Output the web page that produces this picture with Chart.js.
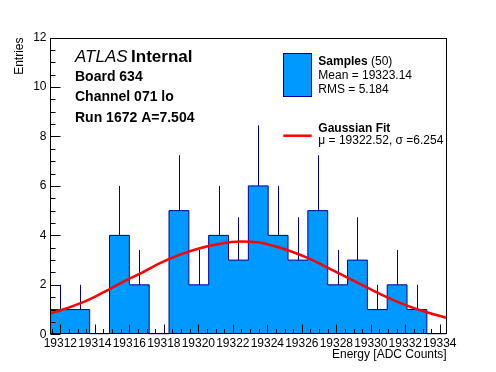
<!DOCTYPE html>
<html><head><meta charset="utf-8">
<script src="https://cdn.jsdelivr.net/npm/chart.js@4/dist/chart.umd.min.js"></script>
<style>html,body{margin:0;padding:0;background:#fff}</style>
</head><body>
<canvas id="c" width="496" height="372"></canvas>
<script>
// ---- data ----
const binEdges = [19311.40, 19312.55, 19313.70, 19314.85, 19316.00, 19317.15, 19318.30,
  19319.45, 19320.60, 19321.75, 19322.90, 19324.05, 19325.20, 19326.35, 19327.50,
  19328.65, 19329.80, 19330.95, 19332.10, 19333.25, 19334.40];
const counts = [1, 1, 0, 4, 2, 0, 5, 2, 4, 3, 6, 4, 3, 5, 2, 3, 1, 2, 1, 0];
const errors = [1, 1, 0, 2, 1.41, 0, 2.24, 1.41, 2, 1.73, 2.45, 2, 1.73, 2.24, 1.41, 1.73, 1, 1.41, 1, 0];
const fitX = [19311.40, 19311.98, 19313.14, 19313.72, 19314.88, 19315.92, 19316.62, 19317.78,
  19318.94, 19319.98, 19321.26, 19322.41, 19323.46, 19324.33, 19325.31, 19326.30, 19327.23,
  19328.22, 19329.20, 19330.13, 19331.11, 19332.10, 19333.02, 19334.36];
const fitY = [0.84, 0.96, 1.25, 1.42, 1.84, 2.22, 2.45, 2.88, 3.22, 3.46, 3.66, 3.75, 3.72,
  3.58, 3.37, 3.10, 2.79, 2.44, 2.10, 1.77, 1.44, 1.16, 0.94, 0.67];
const xTickValues = [19312, 19314, 19316, 19318, 19320, 19322, 19324, 19326, 19328, 19330, 19332, 19334];
const yTickValues = [0, 2, 4, 6, 8, 10, 12];

const FONT = '"Liberation Sans", Arial, Helvetica, sans-serif';
const FILL = '#0099ff', LINE = '#000099', RED = '#ff0000';

const histPoints = binEdges.map((x, i) => ({x: x, y: counts[Math.min(i, counts.length - 1)]}));
const fitPoints = fitX.map((x, i) => ({x: x, y: fitY[i]}));

const rootPlugin = {
  id: 'rootStyle',
  afterDatasetDraw(chart, args) {
    if (chart.data.datasets[args.index].label !== 'Samples') return;
    const ctx = chart.ctx, xs = chart.scales.x, ys = chart.scales.y;
    ctx.save();
    ctx.strokeStyle = LINE; ctx.lineWidth = 1;
    counts.forEach((c, i) => {
      if (!errors[i]) return;
      const px = Math.round(xs.getPixelForValue((binEdges[i] + binEdges[i + 1]) / 2)) + 0.5;
      ctx.beginPath();
      ctx.moveTo(px, ys.getPixelForValue(c));
      ctx.lineTo(px, ys.getPixelForValue(c + errors[i]));
      ctx.stroke();
    });
    ctx.restore();
  },
  afterDraw(chart) {
    const ctx = chart.ctx, a = chart.chartArea, xs = chart.scales.x, ys = chart.scales.y;
    ctx.save();
    // frame
    ctx.strokeStyle = '#000'; ctx.lineWidth = 1;
    const L = Math.round(a.left) + 0.5, R = Math.round(a.right) - 0.5,
          T = Math.round(a.top) + 0.5, B = Math.round(a.bottom) - 0.5;
    ctx.strokeRect(L, T, R - L, B - T);
    // x ticks (inside)
    ctx.beginPath();
    for (let v = Math.ceil(xs.min * 2) / 2; v <= xs.max + 1e-9; v += 0.5) {
      const px = Math.round(xs.getPixelForValue(v)) + 0.5;
      const major = xTickValues.includes(v);
      ctx.moveTo(px, B); ctx.lineTo(px, B - (major ? 9 : 4.5));
    }
    // y ticks (inside)
    for (let v = Math.ceil(ys.min * 2) / 2; v <= ys.max + 1e-9; v += 0.5) {
      const py = Math.round(ys.getPixelForValue(v)) + 0.5;
      const major = yTickValues.includes(v);
      ctx.moveTo(L, py); ctx.lineTo(L + (major ? 10 : 5), py);
    }
    ctx.stroke();

    // axis titles
    ctx.fillStyle = '#000';
    ctx.font = '12px ' + FONT;
    ctx.textAlign = 'right'; ctx.textBaseline = 'middle';
    ctx.fillText('Energy [ADC Counts]', a.right, 354.5);
    ctx.save();
    ctx.translate(19.5, a.top);
    ctx.rotate(-Math.PI / 2);
    ctx.textAlign = 'right';
    ctx.fillText('Entries', 0, 0);
    ctx.restore();

    // ATLAS label
    ctx.textAlign = 'left'; ctx.textBaseline = 'alphabetic';
    ctx.font = 'italic 17px ' + FONT;
    ctx.fillText('ATLAS', 75, 61.7);
    const w = ctx.measureText('ATLAS').width;
    ctx.font = 'bold 17px ' + FONT;
    ctx.fillText('Internal', 75 + w + 3.5, 61.7);
    ctx.font = 'bold 14px ' + FONT;
    ctx.fillText('Board 634', 75, 80.7);
    ctx.fillText('Channel 071 lo', 75, 100.7);
    ctx.fillText('Run 1672 A=7.504', 75, 121.7);

    // legend
    ctx.fillStyle = FILL;
    ctx.fillRect(283.5, 53.5, 28, 43);
    ctx.strokeStyle = LINE;
    ctx.strokeRect(283.5, 53.5, 28, 43);
    ctx.fillStyle = '#000';
    ctx.font = 'bold 12px ' + FONT;
    ctx.fillText('Samples', 318.3, 65);
    const ws = ctx.measureText('Samples ').width;
    ctx.font = '12px ' + FONT;
    ctx.fillText('(50)', 318.3 + ws, 65);
    ctx.fillText('Mean = 19323.14', 318.3, 79.3);
    ctx.fillText('RMS = 5.184', 318.3, 93.3);
    ctx.strokeStyle = RED; ctx.lineWidth = 2.5;
    ctx.beginPath(); ctx.moveTo(283.3, 135.7); ctx.lineTo(311.7, 135.7); ctx.stroke();
    ctx.font = 'bold 12px ' + FONT;
    ctx.fillText('Gaussian Fit', 318.3, 132.3);
    ctx.font = '12px ' + FONT;
    ctx.fillText('\u03bc = 19322.52, \u03c3 =6.254', 318.3, 144.3);
    ctx.restore();
  }
};

new Chart(document.getElementById('c'), {
  type: 'line',
  data: {
    datasets: [
      {label: 'Gaussian Fit', data: fitPoints, borderColor: RED, borderWidth: 2.5,
       pointRadius: 0, fill: false, cubicInterpolationMode: 'monotone', order: 0},
      {label: 'Samples', data: histPoints, borderColor: LINE, borderWidth: 1,
       backgroundColor: FILL, pointRadius: 0, fill: 'origin', stepped: 'before', order: 1}
    ]
  },
  options: {
    responsive: false, animation: false, devicePixelRatio: 1,
    layout: {padding: {left: 0, right: 49.3, top: 37.5, bottom: 0}},
    plugins: {legend: {display: false}, tooltip: {enabled: false}},
    scales: {
      x: {
        type: 'linear', min: binEdges[0], max: binEdges[binEdges.length - 1],
        afterBuildTicks: s => { s.ticks = xTickValues.map(v => ({value: v})); },
        afterFit: s => { s.height = 37.7; },
        grid: {display: false, drawTicks: false}, border: {display: false},
        ticks: {font: {family: FONT, size: 12}, color: '#000', padding: 2.5,
                maxRotation: 0, autoSkip: false, callback: v => String(v)}
      },
      y: {
        type: 'linear', min: 0, max: 12,
        afterBuildTicks: s => { s.ticks = yTickValues.map(v => ({value: v})); },
        afterFit: s => { s.width = 50; },
        grid: {display: false, drawTicks: false}, border: {display: false},
        ticks: {font: {family: FONT, size: 12}, color: '#000', padding: 3.5,
                callback: v => String(v)}
      }
    }
  },
  plugins: [rootPlugin]
});
</script>
</body></html>
